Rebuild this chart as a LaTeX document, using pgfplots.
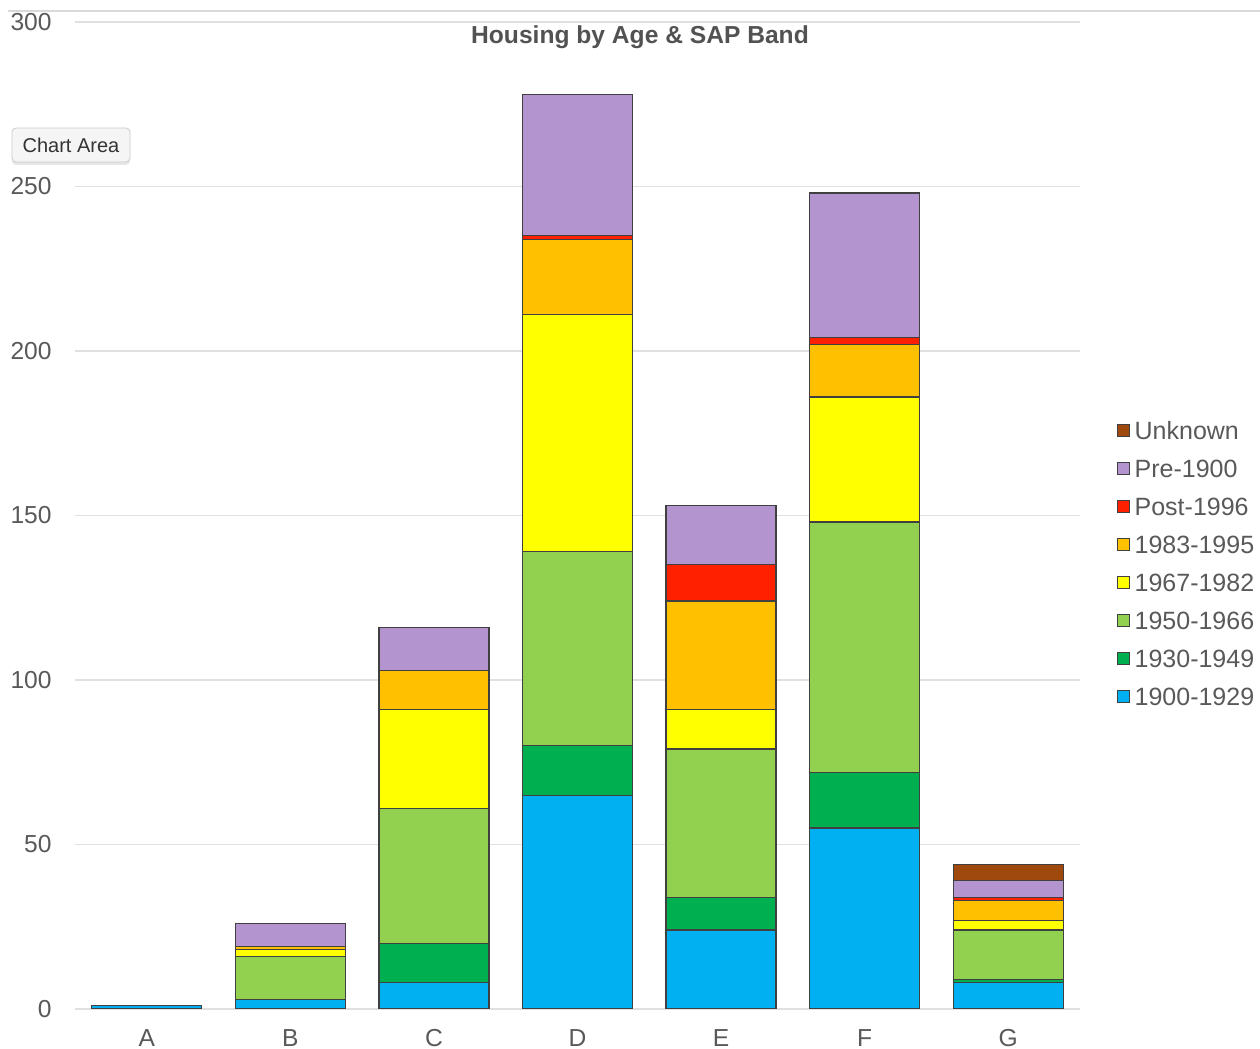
\documentclass[border=0pt]{standalone}
\usepackage{fontspec}
\setmainfont{Liberation Sans}
\usepackage{pgfplots}
\pgfplotsset{compat=1.18}
\usetikzlibrary{shadows}
\definecolor{cA}{HTML}{00B0F0}
\definecolor{cB}{HTML}{00B050}
\definecolor{cC}{HTML}{92D050}
\definecolor{cD}{HTML}{FFFF00}
\definecolor{cE}{HTML}{FFC000}
\definecolor{cF}{HTML}{FF2000}
\definecolor{cG}{HTML}{B394CE}
\definecolor{cH}{HTML}{A0490E}
\definecolor{txt}{HTML}{595959}
\begin{document}
\begin{tikzpicture}
\begin{axis}[
  at={(0,0)}, anchor=south west,
  scale only axis, width=502.5pt, height=493.5pt,
  ybar stacked, bar width=55pt,
  xmin=-0.5, xmax=6.5, ymin=0, ymax=300,
  xtick={0,1,2,3,4,5,6}, xticklabels={A,B,C,D,E,F,G},
  ytick={0,50,100,150,200,250,300},
  axis line style={draw=none},
  major tick length=0pt,
  ymajorgrids, grid style={draw=black!12, line width=0.8pt},
  tick label style={font=\fontsize{12.3}{14}\selectfont, text=txt},
  /pgf/number format/assume math mode=true,
  yticklabel style={anchor=east, inner sep=0pt, xshift=-11.5pt},
  xticklabel style={anchor=center, inner sep=0pt, yshift=-14.5pt},
  every axis plot/.append style={draw=black!75, line width=0.6pt},
  legend reversed,
  legend style={at={(1.036,0.596)}, anchor=north west, draw=none, fill=none,
    inner sep=0pt, font=\fontsize{12.5}{14}\selectfont, text=txt,
    row sep=10pt, nodes={inner sep=0pt, text height=9pt, text depth=0pt}},
  legend cell align=left,
  legend image code/.code={\draw[#1, line width=0.5pt] (0pt,-3pt) rectangle (6pt,3pt); \path (8.5pt,0pt);},
]
\addplot[fill=cA] coordinates {(0,1) (1,3) (2,8) (3,65) (4,24) (5,55) (6,8)};
\addplot[fill=cB] coordinates {(0,0) (1,0) (2,12) (3,15) (4,10) (5,17) (6,1)};
\addplot[fill=cC] coordinates {(0,0) (1,13) (2,41) (3,59) (4,45) (5,76) (6,15)};
\addplot[fill=cD] coordinates {(0,0) (1,2) (2,30) (3,72) (4,12) (5,38) (6,3)};
\addplot[fill=cE] coordinates {(0,0) (1,1) (2,12) (3,23) (4,33) (5,16) (6,6)};
\addplot[fill=cF] coordinates {(0,0) (1,0) (2,0) (3,1) (4,11) (5,2) (6,1)};
\addplot[fill=cG] coordinates {(0,0) (1,7) (2,13) (3,43) (4,18) (5,44) (6,5)};
\addplot[fill=cH] coordinates {(0,0) (1,0) (2,0) (3,0) (4,0) (5,0) (6,5)};
\legend{1900-1929,1930-1949,1950-1966,1967-1982,1983-1995,Post-1996,Pre-1900,Unknown}
\end{axis}
\node[font=\bfseries\fontsize{12.3}{14}\selectfont, text=black!68] at (282.5pt,486pt) {Housing by Age \& SAP Band};
\draw[black!15, line width=0.8pt] (-33.5pt,499pt) -- (592.5pt,499pt);
\node[draw=black!20, fill=black!4, rounded corners=2pt, drop shadow={opacity=0.2, shadow xshift=0pt, shadow yshift=-1.5pt},
  minimum width=59pt, minimum height=17pt, inner sep=0pt,
  font=\fontsize{10}{12}\selectfont, text=black!80] at (-2pt,432pt) {Chart Area};
\pgfresetboundingbox
\useasboundingbox (-37.5pt,-20pt) rectangle (592.5pt,504.5pt);
\end{tikzpicture}
\end{document}
